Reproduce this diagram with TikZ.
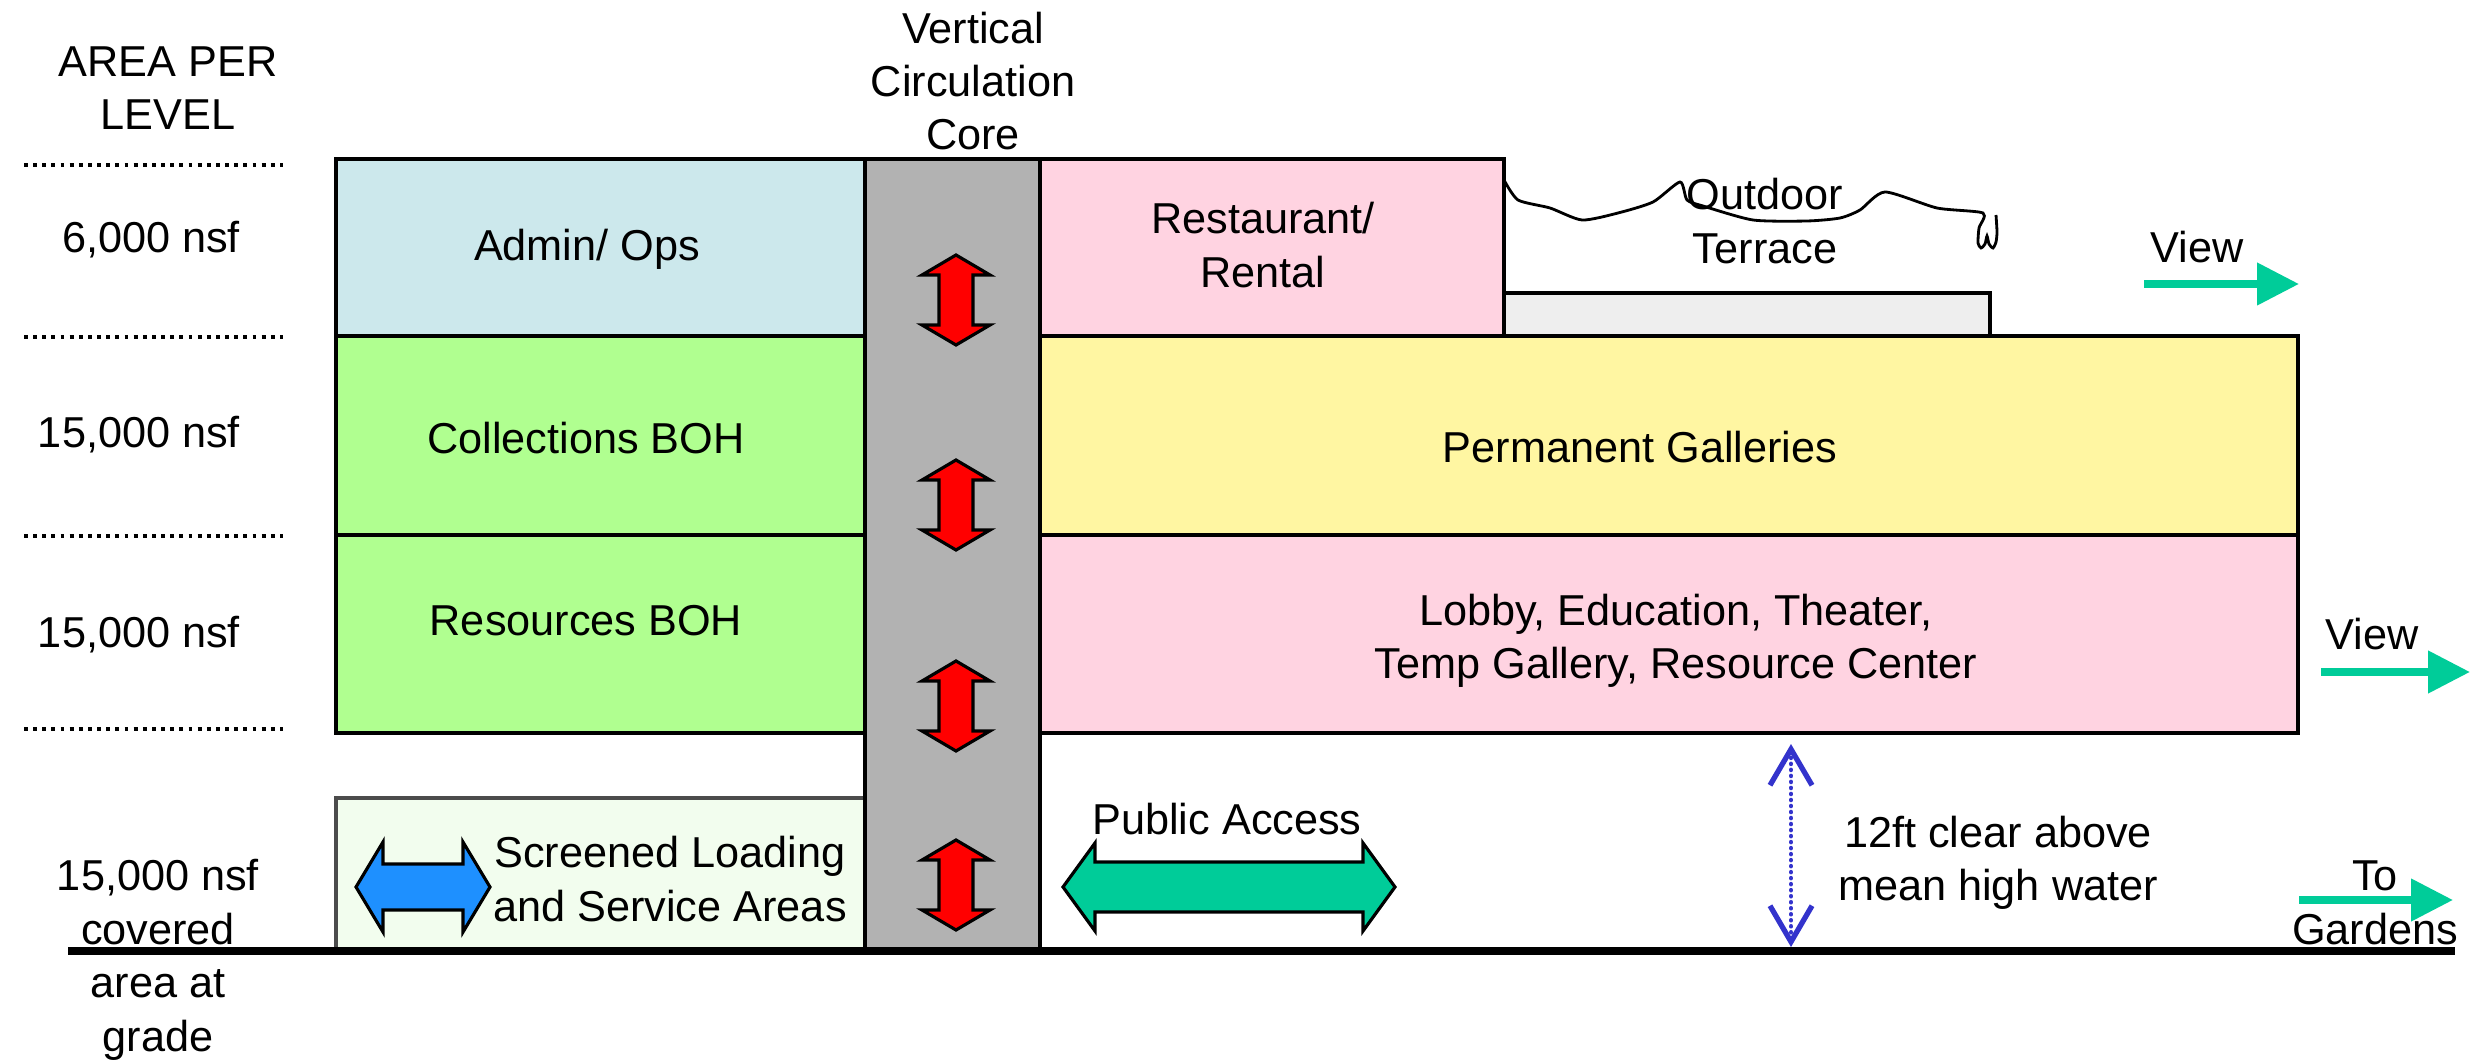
\documentclass[tikz,border=0pt]{standalone}
\usepackage{fontspec}
\setmainfont{Liberation Sans}
\usetikzlibrary{arrows.meta}

\definecolor{admin area}{RGB}{204,232,236}
\definecolor{boh area}{RGB}{176,255,144}
\definecolor{public area}{RGB}{255,211,225}
\definecolor{gallery area}{RGB}{255,246,162}
\definecolor{core area}{RGB}{178,178,178}
\definecolor{terrace slab}{RGB}{238,238,238}
\definecolor{loading area}{RGB}{242,253,238}
\definecolor{lift red}{RGB}{255,0,0}
\definecolor{service blue}{RGB}{30,144,255}
\definecolor{access green}{RGB}{0,204,153}
\definecolor{water blue}{RGB}{51,51,204}

\tikzset{
  room/.style={draw=black, line width=0.9pt},
  pics/dblarrow/.style n args={5}{code={
    \draw[line width=0.9pt, fill=#5] (-#1,0) -- (-#1+#2,#3) -- (-#1+#2,#4) -- (#1-#2,#4) -- (#1-#2,#3) -- (#1,0)
      -- (#1-#2,-#3) -- (#1-#2,-#4) -- (-#1+#2,-#4) -- (-#1+#2,-#3) -- cycle;
  }}
  }
\tikzstyle{label text}=[font=\fontsize{12.3pt}{15.2pt}\selectfont, align=center, inner sep=0pt]
\tikzstyle{level line}=[line width=1.1pt, dash pattern=on 1.1pt off 1.5pt]
\tikzstyle{ground}=[draw, line width=2pt]
\tikzstyle{view arrow}=[draw=access green, line width=2.2pt, -{Triangle[length=0.42cm, width=0.41cm]}]
\tikzstyle{clearance}=[draw=water blue, line width=1.3pt, line cap=round, dash pattern=on 0.01pt off 1.7pt,
  {Straight Barb[length=0.36cm, width=0.42cm, line width=1.5pt]}-{Straight Barb[length=0.36cm, width=0.42cm, line width=1.5pt]}]

\begin{document}
\begin{tikzpicture}[x=0.01cm, y=-0.01cm]
    \useasboundingbox (0,0) rectangle (2472,1061);

    % The floors
    \foreach \a/\b/\col in {{(336,159)/(865,336)/admin area}, {(336,336)/(865,535)/boh area},
      {(336,535)/(865,733)/boh area}, {(1040,159)/(1504,336)/public area},
      {(1040,336)/(2298,535)/gallery area}, {(1040,535)/(2298,733)/public area},
      {(1504,293)/(1990,336)/terrace slab}}
      \draw[room, fill=\col] \a rectangle \b;
    \draw[room, draw=black!70, fill=loading area] (336,798) rectangle (865,951);

    % Core and grade
    \draw[room, fill=core area] (865,159) rectangle (1040,951);
    \draw[ground] (68,951) -- (2455,951);

    % Level marks
    \foreach \ly in {165,337,536,729}
      \draw[level line] (24,\ly) -- (283,\ly);

    % Terrace edge
    \draw[line width=0.8pt] plot[smooth, tension=0.4] coordinates {(1504,180) (1518,200) (1550,208) (1582,220)
      (1618,213) (1653,202) (1680,182) (1687,200) (1703,206) (1753,220) (1807,221) (1840,218) (1860,210)
      (1885,192) (1937,208) (1983,213) (1979,228) (1978,243) (1981,248) (1985,244) (1987,236) (1989,244)
      (1993,248) (1996,242) (1997,232) (1996,215)};

    % Movement arrows
    \foreach \ly in {300,505,706,885}
      \pic[rotate=90] at (956,\ly) {dblarrow={45}{20}{34}{17}{lift red}};
    \pic at (423,887) {dblarrow={67}{27}{45}{23}{service blue}};
    \pic at (1229,887) {dblarrow={166}{32}{44}{25}{access green}};

    \coordinate (view top a) at (2144,284);
    \coordinate (view top b) at (2299,284);
    \coordinate (view mid a) at (2321,672);
    \coordinate (view mid b) at (2470,672);
    \coordinate (garden a) at (2299,900);
    \coordinate (garden b) at (2453,900);
    \coordinate (clear top) at (1791,744);
    \coordinate (clear bot) at (1791,947);

    \foreach \source/\sink in {view top a/view top b, view mid a/view mid b, garden a/garden b}
      \path[view arrow] (\source) -- (\sink);
    \path[clearance] (clear top) -- (clear bot);

    % Labels
    \node[label text] (level head) at (168,88) {AREA PER\\LEVEL};
    \node[label text] (level top) at (151,240) {6,000 nsf};
    \node[label text] (level gal) at (139,435) {15,000 nsf};
    \node[label text] (level lobby) at (139,635) {15,000 nsf};
    \node[label text] (level grade) at (158,960) {15,000 nsf\\covered\\area at\\grade};
    \node[label text] (core title) at (973,81) {Vertical\\Circulation\\Core};
    \node[label text] (admin) at (587,249) {Admin/ Ops};
    \node[label text] (collections) at (586,438) {Collections BOH};
    \node[label text] (resources) at (586,621) {Resources BOH};
    \node[label text] (loading) at (670,879) {Screened Loading\\and Service Areas};
    \node[label text] (restaurant) at (1263,245) {Restaurant/\\Rental};
    \node[label text] (terrace) at (1765,221) {Outdoor\\Terrace};
    \node[label text] (galleries) at (1640,447) {Permanent Galleries};
    \node[label text] (lobby) at (1676,641) {Lobby, Education, Theater,\\Temp Gallery, Resource Center};
    \node[label text] (public) at (1227,819) {Public Access};
    \node[label text] (clearance) at (1998,863) {12ft clear above\\mean high water};
    \node[label text] (view top) at (2197,247) {View};
    \node[label text] (view mid) at (2372,634) {View};
    \node[label text] (gardens) at (2375,903) {To\\Gardens};

\end{tikzpicture}
\end{document}
